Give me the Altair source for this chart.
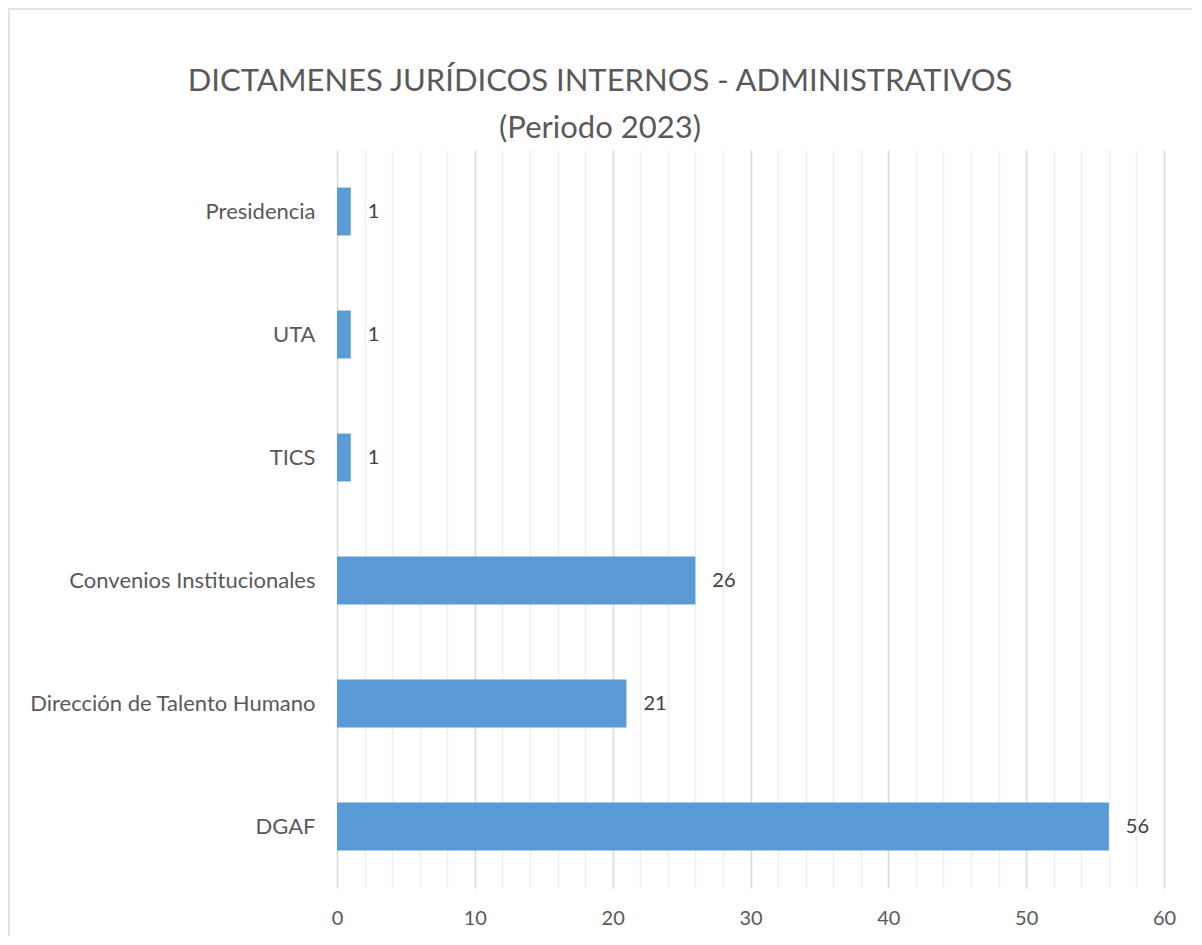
import altair as alt
import pandas as pd

title_lines = ["DICTAMENES JURÍDICOS INTERNOS - ADMINISTRATIVOS", "(Periodo 2023)"]
categories = ["Presidencia", "UTA", "TICS", "Convenios Institucionales",
              "Dirección de Talento Humano", "DGAF"]
values = [1, 1, 1, 26, 21, 56]
tick_values = list(range(0, 61, 2))

df = pd.DataFrame({"categoria": categories, "valor": values})

FONT = "Lato"
W, H = 827, 738

y_enc = alt.Y("categoria:N", sort=categories, title=None,
              scale=alt.Scale(paddingInner=0.61, paddingOuter=0.305),
              axis=alt.Axis(domain=False, ticks=False, labelFontSize=22,
                            labelColor="#595959", labelFont=FONT, labelPadding=22,
                            labelLimit=400))
x_enc = alt.X("valor:Q", title=None,
              scale=alt.Scale(domain=[0, 60], nice=False),
              axis=alt.Axis(values=tick_values, domain=False, ticks=False,
                            labelOverlap=False, labelFlush=False,
                            labelExpr="datum.value % 10 === 0 ? datum.label : ''",
                            gridColor=alt.expr("datum.value % 10 === 0 ? '#d9d9d9' : '#f0f0f0'"),
                            gridWidth=1.5, labelFontSize=20, labelColor="#595959",
                            labelFont=FONT, labelPadding=20))

bars = alt.Chart(df).mark_bar(color="#5b9bd5").encode(x=x_enc, y=y_enc)
labels = alt.Chart(df).mark_text(align="left", baseline="middle", dx=17,
                                 fontSize=20, font=FONT, color="#404040").encode(
    x=x_enc, y=y_enc, text="valor:Q")

border = alt.Chart(pd.DataFrame({"b": [0]})).mark_rect(
    fillOpacity=0, stroke="#d9d9d9", strokeWidth=1.5, clip=False).encode(
    x=alt.value(-328), x2=alt.value(W + 60),
    y=alt.value(-141), y2=alt.value(H + 80))

t1 = alt.Chart(pd.DataFrame({"t": [title_lines[0]]})).mark_text(
    fontSize=31, font=FONT, color="#595959", align="center", baseline="middle").encode(
    text="t:N", x=alt.value(263), y=alt.value(-68))
t2 = alt.Chart(pd.DataFrame({"t": [title_lines[1]]})).mark_text(
    fontSize=31, font=FONT, color="#595959", align="center", baseline="middle").encode(
    text="t:N", x=alt.value(263), y=alt.value(-21))

chart = alt.layer(border, bars, labels, t1, t2).properties(
    width=W, height=H,
    autosize=alt.AutoSizeParams(type="none"),
    padding={"left": 329, "top": 142, "right": 28, "bottom": 48},
).configure_view(stroke=None)

chart.save("out.html", embed_options={"renderer": "svg", "actions": False})
